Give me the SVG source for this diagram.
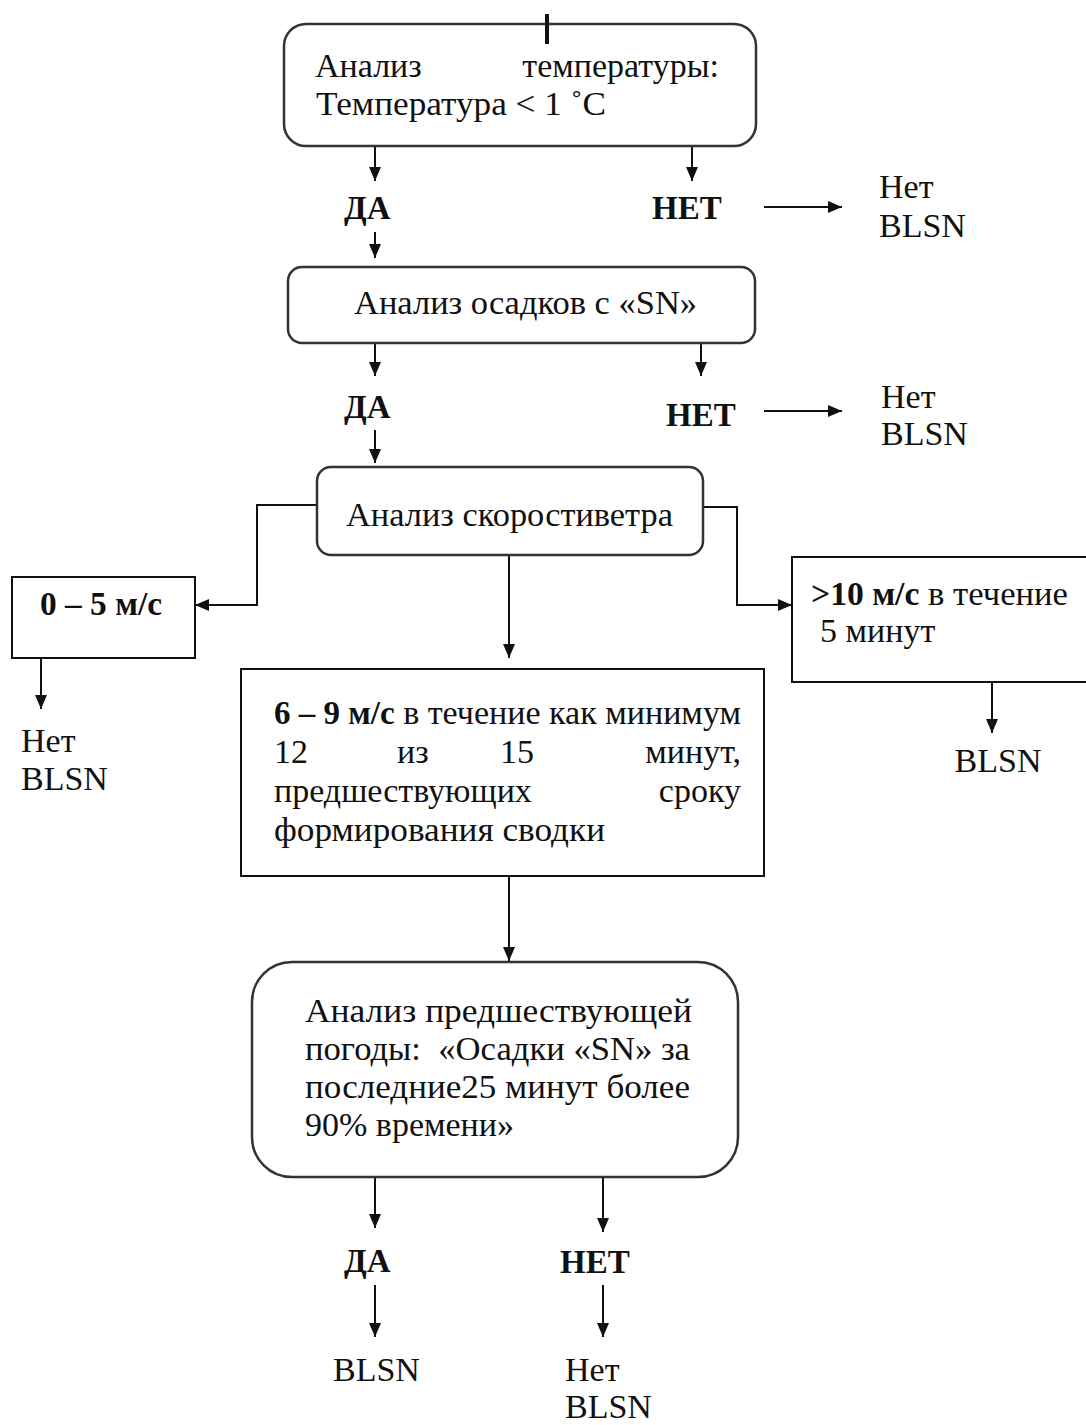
<svg xmlns="http://www.w3.org/2000/svg" width="1086" height="1425" viewBox="0 0 1086 1425">
<style>
text{font-family:"Liberation Serif","Times New Roman",serif;font-size:34px;fill:#111}
.b{font-weight:bold;font-size:33px}
.rbox{fill:#fff;stroke:#333;stroke-width:2.5}
.box{fill:#fff;stroke:#111;stroke-width:2}
.c{fill:none;stroke:#111;stroke-width:2}
</style>
<defs>
<marker id="ah" viewBox="0 0 14 14" refX="14" refY="7" markerWidth="14" markerHeight="14" markerUnits="userSpaceOnUse" orient="auto">
<path d="M0,1 L14,7 L0,13 z" fill="#111"/>
</marker>
</defs>
<rect width="1086" height="1425" fill="#fff"/>

<g id="connectors">
<line class="c" x1="375" y1="146" x2="375" y2="181" marker-end="url(#ah)"/>
<line class="c" x1="692" y1="146" x2="692" y2="181" marker-end="url(#ah)"/>
<line class="c" x1="764" y1="207" x2="842" y2="207" marker-end="url(#ah)"/>
<line class="c" x1="375" y1="232" x2="375" y2="258" marker-end="url(#ah)"/>
<line class="c" x1="375" y1="343" x2="375" y2="376" marker-end="url(#ah)"/>
<line class="c" x1="701" y1="343" x2="701" y2="376" marker-end="url(#ah)"/>
<line class="c" x1="764" y1="411" x2="842" y2="411" marker-end="url(#ah)"/>
<line class="c" x1="375" y1="430" x2="375" y2="463" marker-end="url(#ah)"/>
<polyline class="c" points="317,505 257,505 257,605 195,605" marker-end="url(#ah)"/>
<polyline class="c" points="703,507 737,507 737,605 792,605" marker-end="url(#ah)"/>
<line class="c" x1="509" y1="555" x2="509" y2="658" marker-end="url(#ah)"/>
<line class="c" x1="41" y1="658" x2="41" y2="709" marker-end="url(#ah)"/>
<line class="c" x1="992" y1="682" x2="992" y2="733" marker-end="url(#ah)"/>
<line class="c" x1="509" y1="876" x2="509" y2="961" marker-end="url(#ah)"/>
<line class="c" x1="375" y1="1178" x2="375" y2="1228" marker-end="url(#ah)"/>
<line class="c" x1="603" y1="1178" x2="603" y2="1232" marker-end="url(#ah)"/>
<line class="c" x1="375" y1="1285" x2="375" y2="1337" marker-end="url(#ah)"/>
<line class="c" x1="603" y1="1285" x2="603" y2="1337" marker-end="url(#ah)"/>
</g>

<g id="temp">
<rect class="rbox" x="284" y="24" width="472" height="122" rx="22"/>
<line x1="547" y1="14" x2="547" y2="44" stroke="#111" stroke-width="4"/>
<text x="315" y="77">Анализ</text>
<text x="719" y="77" text-anchor="end">температуры:</text>
<text x="316" y="115" textLength="290" lengthAdjust="spacingAndGlyphs">Температура &lt; 1 ˚С</text>
</g>

<g id="yes1"><text class="b" x="344" y="219">ДА</text></g>
<g id="no1"><text class="b" x="652" y="219">НЕТ</text></g>
<g id="noblsn1"><text x="879" y="198">Нет</text><text x="879" y="237">BLSN</text></g>

<g id="precip">
<rect class="rbox" x="288" y="267" width="467" height="76" rx="14"/>
<text x="354" y="314" textLength="343" lengthAdjust="spacingAndGlyphs">Анализ осадков с «SN»</text>
</g>

<g id="yes2"><text class="b" x="344" y="418">ДА</text></g>
<g id="no2"><text class="b" x="666" y="426">НЕТ</text></g>
<g id="noblsn2"><text x="881" y="408">Нет</text><text x="881" y="445">BLSN</text></g>

<g id="wind">
<rect class="rbox" x="317" y="467" width="386" height="88" rx="14"/>
<text x="346" y="526" textLength="327" lengthAdjust="spacingAndGlyphs">Анализ скоростиветра</text>
</g>

<g id="w05">
<rect class="box" x="12" y="577" width="183" height="81"/>
<text class="b" x="40" y="615" textLength="122" lengthAdjust="spacingAndGlyphs">0 – 5 м/с</text>
</g>
<g id="noblsn3"><text x="21" y="752">Нет</text><text x="21" y="790">BLSN</text></g>

<g id="w10">
<rect class="box" x="792" y="557" width="300" height="125"/>
<text x="811" y="605" textLength="257" lengthAdjust="spacingAndGlyphs"><tspan class="b">&gt;10 м/с</tspan> в течение</text>
<text x="820" y="642">5 минут</text>
</g>
<g id="blsn1"><text x="998" y="772" text-anchor="middle">BLSN</text></g>

<g id="w69">
<rect class="box" x="241" y="669" width="523" height="207"/>
<text x="274" y="724" textLength="467" lengthAdjust="spacingAndGlyphs"><tspan class="b">6 – 9 м/с</tspan> в течение как минимум</text>
<text x="274" y="763">12</text>
<text x="397" y="763">из</text>
<text x="500" y="763">15</text>
<text x="741" y="763" text-anchor="end">минут,</text>
<text x="274" y="802">предшествующих</text>
<text x="741" y="802" text-anchor="end">сроку</text>
<text x="274" y="841" textLength="331" lengthAdjust="spacingAndGlyphs">формирования сводки</text>
</g>

<g id="prev">
<rect class="rbox" x="252" y="962" width="486" height="215" rx="40"/>
<text x="305" y="1022" textLength="387" lengthAdjust="spacingAndGlyphs">Анализ предшествующей</text>
<text x="305" y="1060" textLength="385" lengthAdjust="spacingAndGlyphs" xml:space="preserve">погоды:  «Осадки «SN» за</text>
<text x="305" y="1098" textLength="385" lengthAdjust="spacingAndGlyphs">последние25 минут более</text>
<text x="305" y="1136">90% времени»</text>
</g>

<g id="yes3"><text class="b" x="344" y="1272">ДА</text></g>
<g id="no3"><text class="b" x="560" y="1273">НЕТ</text></g>
<g id="blsn2"><text x="333" y="1381">BLSN</text></g>
<g id="noblsn4"><text x="565" y="1381">Нет</text><text x="565" y="1418">BLSN</text></g>
</svg>
